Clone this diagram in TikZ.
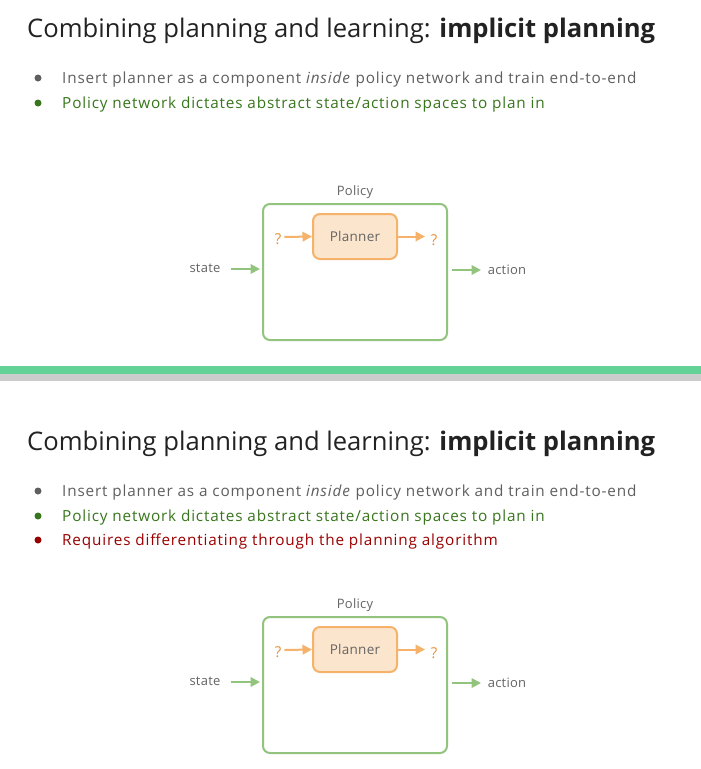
\documentclass[tikz,border=0pt]{standalone}
\usepackage{fontspec}
\setmainfont{Open Sans}
\newfontfamily\bulletfont[LetterSpace=5.5]{Open Sans}
\newfontfamily\labfont[LetterSpace=2]{Open Sans}
\usetikzlibrary{arrows.meta}
\definecolor{titlec}{RGB}{34,34,34}
\definecolor{graytx}{RGB}{95,95,95}
\definecolor{greentx}{RGB}{56,118,29}
\definecolor{redtx}{RGB}{153,0,0}
\definecolor{boxgreen}{RGB}{147,196,125}
\definecolor{plfill}{RGB}{252,229,205}
\definecolor{plline}{RGB}{246,178,107}
\definecolor{qtx}{RGB}{230,145,56}
\definecolor{sepgreen}{RGB}{99,210,151}
\definecolor{sepgray}{RGB}{204,204,204}
\definecolor{labtx}{RGB}{100,100,100}
\tikzset{
  titletext/.style={anchor=base west, inner sep=0pt, text=titlec, font=\fontsize{25.6}{30}\selectfont},
  bullettext/.style={anchor=base west, inner sep=0pt, font=\bulletfont\fontsize{15.3}{18}\selectfont},
  bulletdot/.style={circle, inner sep=0pt, minimum size=7pt},
  policybox/.style={draw=boxgreen, line width=2pt, rounded corners=7pt},
  plannerbox/.style={draw=plline, fill=plfill, line width=2pt, rounded corners=7pt, minimum width=84pt, minimum height=45pt, text=labtx, font=\labfont\fontsize{13.5}{15}\selectfont},
  lab/.style={inner sep=0pt, text=labtx, font=\labfont\fontsize{13}{15}\selectfont},
  qlab/.style={inner sep=0pt, text=qtx, font=\fontsize{15}{16}\selectfont},
  garrow/.style={draw=boxgreen, line width=2pt, -{Triangle[length=9.5pt,width=9.5pt]}},
  oarrow/.style={draw=plline, line width=2pt, -{Triangle[length=9.5pt,width=9.5pt]}},
}
\newcommand{\slidediagram}{%
  \node[titletext] (title) at (27,37) {Combining planning and learning: \textbf{implicit planning}};
  \node[bulletdot, fill=graytx] (d1) at (38,78) {};
  \node[bullettext, text=graytx] (b1) at (62,83.5) {Insert planner as a component \textit{inside} policy network and train end-to-end};
  \node[bulletdot, fill=greentx] (d2) at (38,103) {};
  \node[bullettext, text=greentx] (b2) at (62,108.5) {Policy network dictates abstract state/action spaces to plan in};
  \draw[policybox] (263,204) rectangle (447,340);
  \node[lab] (policy) at (355,192) {Policy};
  \node[plannerbox] (planner) at (355,236.5) {Planner};
  \node[qlab] (q1) at (278,239) {?};
  \node[qlab] (q2) at (434,240) {?};
  \draw[oarrow] (q1.east) ++(3,-2) coordinate (q1e) -- (planner.west);
  \draw[oarrow] (planner.east) -- ++(27,0) coordinate (q2w);
  \node[lab] (state) at (205,268) {state};
  \coordinate (pin) at (260,269);
  \draw[garrow] (231,269) coordinate (sa) -- (pin);
  \coordinate (pout) at (452,270);
  \draw[garrow] (pout) -- (481,270);
  \node[lab] (action) at (507,270) {action};
}
\begin{document}
\begin{tikzpicture}[x=1pt,y=-1pt]
\useasboundingbox (0,0) rectangle (701,769);
\fill[white] (0,0) rectangle (701,769);
\begin{scope}[name prefix=a-]
\slidediagram
\end{scope}
\fill[sepgreen] (0,366) rectangle (701,374);
\fill[sepgray] (0,374) rectangle (701,381);
\begin{scope}[yshift=-413pt, name prefix=b-]
\slidediagram
\node[bulletdot, fill=redtx] (d3) at (38,127) {};
\node[bullettext, text=redtx] (b3) at (62,132.5) {Requires differentiating through the planning algorithm};
\end{scope}
\end{tikzpicture}
\end{document}
